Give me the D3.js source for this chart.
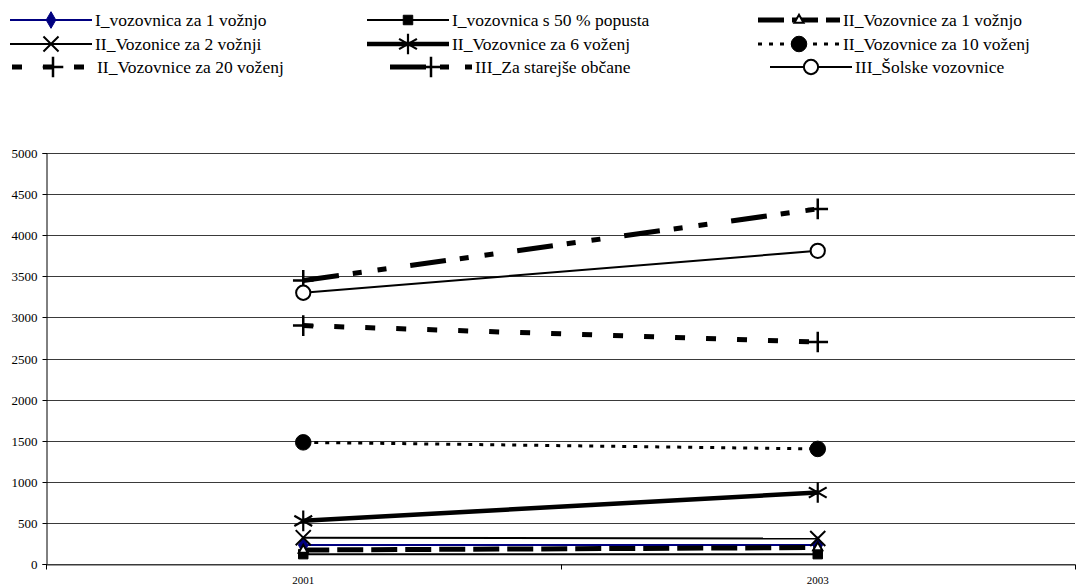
<!DOCTYPE html>
<html>
<head>
<meta charset="utf-8">
<script src="https://cdn.jsdelivr.net/npm/d3@7"></script>
<style>
  body { margin: 0; background: #fff; }
  svg { display: block; }
  svg text { font-family: "Liberation Serif", "DejaVu Serif", "Times New Roman", serif; }
</style>
</head>
<body>
<script>
(function () {
  'use strict';

  // podatki
  const years = ["2001", "2003"];
  const seriesNames = [
    "I_vozovnica za 1 vožnjo",
    "I_vozovnica s 50 % popusta",
    "II_Vozovnice za 1 vožnjo",
    "II_Vozonice za 2 vožnji",
    "II_Vozovnice za 6 voženj",
    "II_Vozovnice za 10 voženj",
    "II_Vozovnice za 20 voženj",
    "III_Za starejše občane",
    "III_Šolske vozovnice"
  ];
  const v1 = [230, 230];
  const v2 = [120, 120];
  const v3 = [170, 200];
  const v4 = [320, 310];
  const v5 = [525, 870];
  const v6 = [1480, 1400];
  const v7 = [2900, 2700];
  const v8 = [3450, 4320];
  const v9 = [3300, 3810];
  const yTicks = [0, 500, 1000, 1500, 2000, 2500, 3000, 3500, 4000, 4500, 5000];

  const values = [v1, v2, v3, v4, v5, v6, v7, v8, v9];

  // izgled serij
  const tri = d3.symbolTriangle2 || d3.symbolTriangle;
  const styles = [
    {color: "#000080", width: 2, dash: null, sym: d3.symbolDiamond, size: 80, fill: true, sw: 1},
    {color: "#000", width: 2, dash: null, sym: d3.symbolSquare, size: 90, fill: true, sw: 1},
    {color: "#000", width: 5, dash: "26,8", sym: tri, size: 60, fill: false, sw: 2},
    {color: "#000", width: 2, dash: null, sym: d3.symbolTimes || d3.symbolX, size: 150, fill: false, sw: 2},
    {color: "#000", width: 4.5, dash: null, sym: d3.symbolAsterisk, size: 300, fill: false, sw: 2.2},
    {color: "#000", width: 3, dash: "4,7", sym: d3.symbolCircle, size: 190, fill: true, sw: 1},
    {color: "#000", width: 5, dash: "10,21", sym: d3.symbolPlus, size: 140, fill: false, sw: 2.5},
    {color: "#000", width: 5, dash: "36,14,9,16,9,24", sym: d3.symbolPlus, size: 140, fill: false, sw: 2.5},
    {color: "#000", width: 2, dash: null, sym: d3.symbolCircle, size: 160, fill: false, sw: 2}
  ];

  const W = 1085, H = 588;
  const margin = {left: 46, right: 10, top: 153, bottom: 24};

  const svg = d3.select("body").append("svg")
    .attr("width", W)
    .attr("height", H);

  const x = d3.scaleBand().domain(years).range([margin.left, W - margin.right]).paddingInner(0).paddingOuter(0);
  const y = d3.scaleLinear().domain([0, 5000]).range([H - margin.bottom, margin.top]);
  const cx = d => x(d) + x.bandwidth() / 2;

  // mreža
  svg.append("g")
    .selectAll("line")
    .data(yTicks)
    .join("line")
    .attr("x1", margin.left)
    .attr("x2", W - margin.right)
    .attr("y1", d => Math.round(y(d)) + 0.5)
    .attr("y2", d => Math.round(y(d)) + 0.5)
    .attr("stroke", "#3a3a3a")
    .attr("stroke-width", 1);

  // y os
  const yAxis = d3.axisLeft(y).tickValues(yTicks).tickSize(4).tickPadding(5).tickFormat(d3.format("d"));
  const gy = svg.append("g")
    .attr("transform", "translate(" + (margin.left + 0.5) + ",0)")
    .call(yAxis);
  gy.attr("font-family", null);
  gy.selectAll("text").attr("font-size", "13px").attr("fill", "#000");
  gy.selectAll("path, line").attr("stroke", "#000");
  gy.selectAll(".tick").attr("transform", d => "translate(0," + (Math.round(y(d)) + 0.5) + ")");

  // x os
  const gx = svg.append("g")
    .attr("transform", "translate(0," + (Math.round(y(0)) + 0.5) + ")")
    .call(d3.axisBottom(x).tickSize(0).tickPadding(12));
  gx.attr("font-family", null);
  gx.select(".domain").attr("stroke", "#3a3a3a");
  gx.selectAll("text").attr("font-size", "11px").attr("fill", "#000");
  const edges = years.map(d => x(d)).concat([x(years[years.length - 1]) + x.bandwidth()]);
  gx.selectAll(".edge")
    .data(edges)
    .join("line")
    .attr("class", "edge")
    .attr("x1", d => Math.round(d) + 0.5)
    .attr("x2", d => Math.round(d) + 0.5)
    .attr("y1", 0)
    .attr("y2", 5)
    .attr("stroke", "#000");

  const line = d3.line().x(d => cx(d.year)).y(d => y(d.value));

  function marker(g, s) {
    g.append("path")
      .attr("d", d3.symbol().type(s.sym).size(s.size)())
      .attr("fill", s.fill ? s.color : (s.sym === d3.symbolCircle || s.sym === tri ? "#fff" : "none"))
      .attr("stroke", s.color)
      .attr("stroke-width", s.sw);
  }

  // serije
  const plot = svg.append("g");
  values.forEach(function (vals, i) {
    const s = styles[i];
    const pts = years.map((yr, j) => ({year: yr, value: vals[j]}));
    plot.append("path")
      .datum(pts)
      .attr("d", line)
      .attr("fill", "none")
      .attr("stroke", s.color)
      .attr("stroke-width", s.width)
      .attr("stroke-dasharray", s.dash);
  });
  values.forEach(function (vals, i) {
    const s = styles[i];
    years.forEach(function (yr, j) {
      const g = plot.append("g").attr("transform", "translate(" + cx(yr) + "," + y(vals[j]) + ")");
      marker(g, s);
    });
  });

  // legenda
  const colX = [[10, 367, 758], [10, 367, 758], [12, 390, 770]];
  const rowY = [20, 44, 67];
  const legend = svg.append("g");
  seriesNames.forEach(function (name, i) {
    const r = Math.floor(i / 3), c = i % 3;
    const s = styles[i];
    const x0 = colX[r][c], yy = rowY[r], len = 82;
    const g = legend.append("g").attr("transform", "translate(" + x0 + "," + yy + ")");
    g.append("line")
      .attr("x1", 0).attr("x2", len)
      .attr("y1", 0).attr("y2", 0)
      .attr("stroke", s.color)
      .attr("stroke-width", s.width)
      .attr("stroke-dasharray", s.dash);
    const m = g.append("g").attr("transform", "translate(" + (len / 2) + ",0)");
    marker(m, s);
    g.append("text")
      .attr("x", len + 3)
      .attr("y", 0)
      .attr("dy", "0.35em")
      .attr("font-size", "17.5px")
      .attr("fill", "#000")
      .text(name);
  });
})();
</script>
</body>
</html>
